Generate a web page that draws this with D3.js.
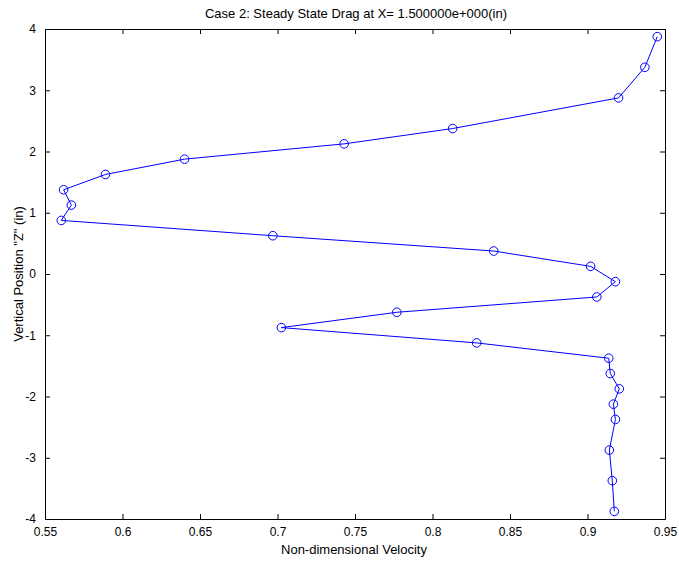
<!DOCTYPE html>
<html>
<head>
<meta charset="utf-8">
<script src="https://cdn.jsdelivr.net/npm/d3@7"></script>
<style>
  html, body { margin: 0; padding: 0; background: #fff; }
  svg { display: block; }
  text { font-family: "Liberation Sans", Arial, sans-serif; fill: #000; }
</style>
</head>
<body>
<svg id="chart" width="679" height="561"></svg>
<script>
// Velocity profile across the vertical position
const zPositions = [3.875, 3.375, 2.875, 2.375, 2.125, 1.875, 1.625, 1.375, 1.125, 0.875,
  0.625, 0.375, 0.125, -0.125, -0.375, -0.625, -0.875, -1.125, -1.375, -1.625,
  -1.875, -2.125, -2.375, -2.875, -3.375, -3.875];
const velocities = [0.945, 0.937, 0.920, 0.813, 0.743, 0.640, 0.589, 0.562, 0.567, 0.5605,
  0.697, 0.8395, 0.902, 0.918, 0.906, 0.777, 0.7025, 0.8285, 0.9137, 0.9147,
  0.9205, 0.9167, 0.918, 0.9141, 0.916, 0.9173];
const xTicks = [0.55, 0.6, 0.65, 0.7, 0.75, 0.8, 0.85, 0.9, 0.95];
const yTicks = [-4, -3, -2, -1, 0, 1, 2, 3, 4];

const titleText = "Case 2: Steady State Drag at X= 1.500000e+000(in)";
const xLabel = "Non-dimensional Velocity";
const yLabel = "Vertical Position \"Z\" (in)";

const svg = d3.select("#chart");
const plotLeft = 45, plotRight = 665, plotTop = 29, plotBottom = 519;
const x = d3.scaleLinear().domain([0.55, 0.95]).range([plotLeft, plotRight]);
const y = d3.scaleLinear().domain([-4, 4]).range([plotBottom, plotTop]);
const tickLen = 5;
const fmt = d => String(d);
const tickFont = 12, labelFont = 13;

// Axes on all four sides with inward ticks
svg.append("g").attr("transform", `translate(0,${plotBottom})`)
  .call(d3.axisBottom(x).tickValues(xTicks).tickFormat(fmt).tickSizeInner(-tickLen).tickSizeOuter(0).tickPadding(8));
svg.append("g").attr("transform", `translate(0,${plotTop})`)
  .call(d3.axisTop(x).tickValues(xTicks).tickFormat("").tickSizeInner(-tickLen).tickSizeOuter(0));
svg.append("g").attr("transform", `translate(${plotLeft},0)`)
  .call(d3.axisLeft(y).tickValues(yTicks).tickFormat(fmt).tickSizeInner(-tickLen).tickSizeOuter(0).tickPadding(9));
svg.append("g").attr("transform", `translate(${plotRight},0)`)
  .call(d3.axisRight(y).tickValues(yTicks).tickFormat("").tickSizeInner(-tickLen).tickSizeOuter(0));

svg.selectAll(".domain").attr("stroke", "#000").attr("stroke-width", 1);
svg.selectAll(".tick line").attr("stroke", "#000");
svg.selectAll(".tick text").attr("font-size", tickFont).attr("font-family", "Liberation Sans, Arial, sans-serif").attr("fill", "#000");

// Profile line and circle markers
const pts = velocities.map((v, i) => ({ v, z: zPositions[i] }));
svg.append("path")
  .datum(pts)
  .attr("fill", "none")
  .attr("stroke", "#0000ff")
  .attr("stroke-width", 1)
  .attr("d", d3.line().x(d => x(d.v)).y(d => y(d.z)));
svg.append("g").selectAll("circle")
  .data(pts)
  .join("circle")
  .attr("cx", d => x(d.v))
  .attr("cy", d => y(d.z))
  .attr("r", 4.3)
  .attr("fill", "none")
  .attr("stroke", "#0000ff")
  .attr("stroke-width", 1);

// Title and axis labels
svg.append("text").attr("x", 356).attr("y", 18)
  .attr("text-anchor", "middle").attr("font-size", labelFont).text(titleText);
svg.append("text").attr("x", 354).attr("y", 554)
  .attr("text-anchor", "middle").attr("font-size", labelFont).text(xLabel);
svg.append("text").attr("transform", `translate(23,${(plotTop + plotBottom) / 2}) rotate(-90)`)
  .attr("text-anchor", "middle").attr("font-size", labelFont).text(yLabel);
</script>
</body>
</html>
